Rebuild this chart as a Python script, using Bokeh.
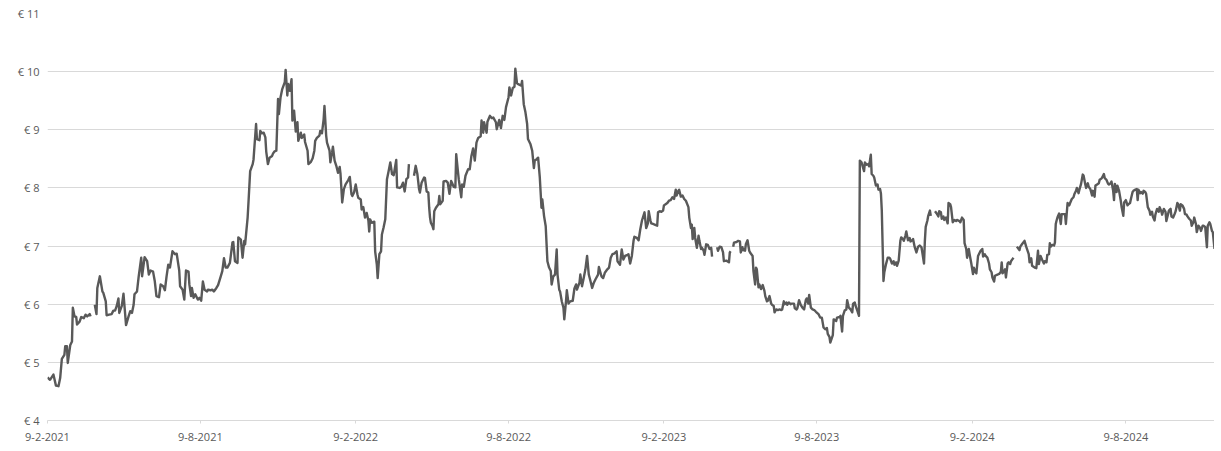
import pandas as pd
from bokeh.plotting import figure
from bokeh.models import Range1d, FixedTicker
from bokeh.embed import file_html
from bokeh.resources import INLINE

start_date = "2021-02-09"
end_day = 1382

# day offsets from start_date and closing prices (EUR), per unbroken stretch
days_1 = [0,3,7,10,13,15,17,20,21,23,
          24,27,29,30,32,34,35,38,40,43,
          45,47,50,51]
price_1 = [4.74,4.70,4.79,4.60,4.59,4.73,5.06,5.13,5.28,5.28,
           4.99,5.30,5.36,5.94,5.79,5.78,5.65,5.70,5.78,5.76,
           5.82,5.79,5.83,5.79]

days_2 = [56,58,59,62,65,66,69,70,73,76,
          78,80,82,84,85,88,90,93,96,98,
          100,102,103,106,108,111,112,115,118,120,
          122,125,127,129,132,134,137,139,141,143,
          145,148,151,153,156,157,160,162,164,167,
          168,170,171,173,175,178,180,182,184,186,
          189,190,193,195,197,200,202,205,207,209,
          211,213,216,219,220,222,225,226,229,231,
          233,234,237,238,240,243,244,247,248,251,
          252,254,256,258,259,261,263,266,267,269,
          271,273,274,276,278,281,282,284,285,287,
          289,290,292,294,296,297,300,301,304,305,
          308,309,312,314,316,317,319,322,323,325,
          327,328,330,331,334,335,337,338,340,342,
          344,346,347,349,351,353,356,358,360,361,
          363,365,367,368,371,372,374,376,378,380,
          381,382,384,387,388,390,391,393,395,396,
          398,400,402,404,406,408,410,413,414,417,
          419,421,423,425,427,428]
price_2 = [5.99,5.83,6.28,6.48,6.22,6.20,6.05,5.81,5.82,5.83,
           5.89,5.89,5.97,6.10,5.85,5.97,6.18,5.64,5.79,5.88,
           5.85,5.99,6.17,6.22,6.48,6.80,6.48,6.81,6.74,6.51,
           6.58,6.56,6.40,6.14,6.12,6.34,6.31,6.24,6.48,6.68,
           6.63,6.91,6.86,6.87,6.58,6.31,6.25,6.08,6.58,6.56,
           6.34,6.14,6.28,6.11,6.17,6.08,6.11,6.06,6.39,6.25,
           6.22,6.25,6.24,6.25,6.22,6.28,6.33,6.47,6.57,6.79,
           6.63,6.63,6.71,7.06,7.07,6.74,6.71,7.15,7.11,6.80,
           7.09,7.03,7.49,7.75,8.29,8.41,8.49,9.10,8.84,8.82,
           8.98,8.94,8.95,8.87,8.63,8.41,8.52,8.55,8.59,8.63,
           8.64,9.53,9.27,9.56,9.70,9.82,10.03,9.59,9.79,9.67,
           9.87,9.16,9.33,8.97,9.13,8.81,8.95,8.86,8.92,8.79,
           8.64,8.41,8.45,8.51,8.64,8.81,8.86,8.90,8.98,8.94,
           9.18,9.41,8.90,8.78,8.64,8.44,8.61,8.71,8.47,8.38,
           8.26,8.36,8.24,7.75,7.98,8.06,8.13,8.19,7.89,7.86,
           7.92,8.06,7.89,7.83,7.80,7.63,7.67,7.49,7.57,7.44,
           7.25,7.46,7.40,7.42,6.91,6.68,6.45,6.86,6.91,7.20,
           7.32,7.46,8.15,8.29,8.44,8.24,8.22,8.48,8.01,8.00,
           8.02,8.09,7.94,8.15,8.18,8.41]

days_3 = [434,436,438,440,441,443,446,447,449,451,
          452,453,454,456,457,458,460,463,464,465,
          468,469,472,474,476,478,479,481,483,484,
          486,487,490,491,493,495,498,500,502,504,
          506,508,510,513,514,516,517,520,521,524,
          526,528,531,532,535,537,539,541,543,546,
          547,549,551,553,554,556,558,561,562,564,
          566,568,569,572,574,576,577,579,581,583,
          585,586,588,590,592,594,596,597,599,601,
          603,604,606,607,609,611,612,614,615,617,
          619,622,624,626,627,630,631,633,635,637,
          639,641,643,645,647,649,652,653,656,658,
          660,663,665,667,669,671,674,675,678,680,
          682,684,687,688,690,692,694,695,698,700,
          702,704,707,709,711,712,714,715,717,719,
          722,723,725,727,729,730,732,734,736,738,
          740,742,744,745,747,748,750,752,754,756,
          759,760,762,763,764,766,767,769,771,772,
          774,775,777,778,780,782,784,786,787]
price_3 = [8.21,8.38,8.24,7.98,7.92,8.09,8.18,8.17,7.94,7.92,
           7.66,7.49,7.40,7.34,7.29,7.60,7.66,7.72,7.86,7.72,
           7.78,8.11,8.12,8.09,7.90,8.12,8.09,8.02,8.01,8.58,
           8.29,8.15,7.84,8.06,8.02,8.21,8.32,8.32,8.55,8.68,
           8.47,8.78,8.86,8.89,9.16,8.95,9.13,8.95,9.14,9.24,
           9.20,9.21,9.13,9.01,9.17,9.03,9.24,9.17,9.39,9.56,
           9.73,9.59,9.72,9.74,10.05,9.80,9.78,9.76,9.84,9.44,
           9.30,9.10,8.84,8.75,8.64,8.34,8.47,8.49,8.52,8.18,
           7.66,7.80,7.52,7.34,6.74,6.63,6.57,6.34,6.48,6.51,
           6.94,6.51,6.25,6.22,6.05,5.94,5.74,6.05,6.24,6.01,
           6.05,6.06,6.27,6.34,6.25,6.37,6.51,6.31,6.45,6.60,
           6.83,6.51,6.40,6.28,6.37,6.43,6.51,6.64,6.48,6.45,
           6.54,6.60,6.63,6.80,6.86,6.87,6.91,6.74,6.68,6.94,
           6.77,6.83,6.85,6.86,6.70,6.83,7.09,7.16,7.14,7.10,
           7.29,7.44,7.58,7.31,7.39,7.60,7.44,7.39,7.38,7.37,
           7.35,7.58,7.60,7.59,7.61,7.70,7.72,7.74,7.78,7.79,
           7.84,7.81,7.97,7.87,7.95,7.97,7.85,7.87,7.81,7.78,
           7.67,7.49,7.31,7.37,7.12,7.31,7.14,6.97,7.18,7.09,
           6.95,6.97,6.92,6.85,7.03,7.02,6.95,6.97,6.82]

days_4 = [793,794,796,798,800,801,804,805,807,808,809]
price_4 = [6.98,6.92,6.99,6.98,6.89,6.74,6.75,6.74,6.72,6.89,6.91]

days_5 = [812,813,816,818,820,821,823,824,826,827,
          829,831,832,835,836,838,839,840,842,843,
          845,847,849,850,852,853,855,857,858,860,
          861,863,865,867,869,870,872,873,875,876,
          878,880,881,884,885,887,888,890,892,894,
          896,898,899,901,902,904,906,908,910,913,
          915,917,919,921,923,924,926,927,930,931,
          934,935,938,939,941,942,944,946,947,949,
          951,953,954,956,957,959,961,962,964,967,
          968,970,972,973,975,976,978,979,981,983,
          984,986,987,988,990,991,993,995,997,998,
          1000,1002,1003,1005,1006,1008,1010,1011,1013,1014,
          1016,1017,1019,1021,1022,1024,1025,1027,1029,1031,
          1033,1035,1036,1038,1039,1040,1042,1043,1045,1046]
price_5 = [6.99,7.06,7.07,7.09,7.08,6.89,6.98,6.93,6.92,7.03,
           7.10,6.92,6.89,6.83,6.57,6.34,6.63,6.60,6.29,6.34,
           6.26,6.33,6.23,6.14,6.05,6.06,6.14,6.01,5.99,5.97,
           5.86,5.91,5.90,5.91,5.90,5.91,6.05,6.00,6.03,5.99,
           6.03,6.00,6.01,6.01,5.93,5.91,5.93,6.07,5.99,5.94,
           5.91,6.07,6.10,6.01,6.16,5.94,5.91,5.90,5.87,5.83,
           5.77,5.77,5.60,5.57,5.59,5.49,5.44,5.34,5.47,5.74,
           5.71,5.77,5.78,5.80,5.53,5.80,5.89,5.91,6.07,5.94,
           5.91,5.86,6.01,6.03,5.97,5.89,5.80,8.47,8.44,8.29,
           8.44,8.40,8.41,8.37,8.57,8.24,8.21,8.18,8.04,8.06,
           7.97,7.98,7.90,7.61,6.40,6.55,6.69,6.80,6.80,6.78,
           6.70,6.74,6.68,6.72,6.66,6.75,7.09,7.15,7.12,7.09,
           7.18,7.25,7.10,7.14,7.08,7.10,7.12,6.98,6.89,6.99,
           7.01,6.98,6.89,6.70,7.09,7.33,7.44,7.52,7.61,7.52]

days_6 = [1051,1053,1055,1056,1058,1059,1061,1062,1064,1066,
          1067,1069,1070,1072,1074,1076,1077,1080,1081,1083,
          1085,1086,1088,1089,1091,1092,1094,1096,1097,1099,
          1100,1102,1104,1105,1107,1108,1110,1111,1113,1115,
          1116,1118,1119,1121,1122,1125,1127,1129,1130,1131,
          1133,1134,1135,1137,1138,1140,1141,1143,1144]
price_6 = [7.60,7.56,7.51,7.60,7.58,7.47,7.51,7.45,7.49,7.39,
           7.74,7.72,7.67,7.41,7.45,7.43,7.45,7.43,7.41,7.49,
           7.45,7.05,6.95,6.80,6.95,6.86,6.70,6.52,6.63,6.55,
           6.53,6.83,6.89,6.92,6.95,6.82,6.86,6.83,6.80,6.70,
           6.60,6.55,6.46,6.39,6.49,6.51,6.52,6.56,6.72,6.53,
           6.57,6.60,6.46,6.70,6.72,6.69,6.74,6.78,6.80]

days_7 = [1148,1151,1152,1154,1157,1159,1162,1163,1165,1166,
          1169,1171,1173,1174,1176,1178,1180,1181,1183,1184,
          1186,1187,1188,1190,1192,1193,1194,1195,1196,1198,
          1200,1201,1203,1205,1206,1207,1208,1210,1211,1213,
          1215,1216,1218,1219,1221,1222,1224,1226,1227,1229,
          1230,1232,1233,1235,1237,1238,1240,1241,1243,1245,
          1246,1248,1249,1251,1252,1254,1256,1257,1259,1260,
          1262,1263,1264,1266,1267,1269,1271,1272,1274,1275,
          1277,1279,1280,1282,1283,1285,1286,1288,1290,1291,
          1292,1294,1295,1297,1298,1300,1301,1303,1305,1306,
          1308,1309,1311,1312,1314,1316,1317,1319,1320,1322,
          1324,1325,1327,1328,1330,1331,1333,1335,1336,1338,
          1339,1341,1342,1344,1346,1347,1349,1350,1352,1354,
          1355,1357,1358,1360,1361,1363,1365,1366,1368,1369,
          1371,1373,1374,1376,1377,1379,1380,1382]
price_7 = [6.99,6.93,6.99,7.03,7.09,6.99,6.86,6.72,6.79,6.66,
           6.63,6.62,6.92,6.69,6.83,6.76,6.70,6.74,6.72,6.85,
           6.86,7.05,6.99,7.02,7.01,7.06,7.38,7.44,7.49,7.56,
           7.38,7.55,7.55,7.55,7.38,7.56,7.74,7.70,7.74,7.81,
           7.84,7.89,7.95,8.00,7.91,7.97,8.07,8.23,8.21,8.06,
           8.00,8.08,8.02,7.98,7.87,7.95,7.85,8.04,8.06,8.08,
           8.14,8.16,8.18,8.24,8.17,8.14,8.07,8.06,8.08,8.11,
           7.95,7.79,8.07,7.93,8.04,7.95,7.78,7.67,7.52,7.75,
           7.79,7.70,7.72,7.74,7.81,7.93,7.95,7.97,7.98,7.79,
           7.97,7.91,7.93,7.90,7.95,7.93,7.90,7.67,7.61,7.54,
           7.59,7.51,7.44,7.54,7.64,7.59,7.67,7.60,7.54,7.64,
           7.59,7.43,7.55,7.61,7.64,7.51,7.49,7.56,7.60,7.74,
           7.72,7.61,7.72,7.70,7.64,7.55,7.54,7.51,7.47,7.44,
           7.35,7.41,7.49,7.38,7.24,7.35,7.31,7.26,7.35,7.35,
           7.33,6.98,7.35,7.41,7.38,7.26,7.24,6.95]

tick_dates = ["2021-02-09", "2021-08-09", "2022-02-09", "2022-08-09",
              "2023-02-09", "2023-08-09", "2024-02-09", "2024-08-09"]
tick_labels = ["9-2-2021", "9-8-2021", "9-2-2022", "9-8-2022",
               "9-2-2023", "9-8-2023", "9-2-2024", "9-8-2024"]
y_ticks = [4, 5, 6, 7, 8, 9, 10, 11]
y_labels = ["€ 4", "€ 5", "€ 6", "€ 7", "€ 8", "€ 9", "€ 10", "€ 11"]

segments = [(days_1, price_1), (days_2, price_2), (days_3, price_3),
            (days_4, price_4), (days_5, price_5), (days_6, price_6),
            (days_7, price_7)]

t0 = pd.Timestamp(start_date)
tick_days = [int((pd.Timestamp(d) - t0).days) for d in tick_dates]

FONT = "Open Sans"
TXT = "#595959"
GRID = "#d9d9d9"

p = figure(width=1214, height=448, output_backend="svg", toolbar_location=None,
           x_range=Range1d(0, end_day), y_range=Range1d(4, 11),
           min_border_left=47, min_border_right=0, min_border_top=13,
           min_border_bottom=28)
p.outline_line_color = None
p.background_fill_color = "white"
p.border_fill_color = "white"

for d, v in segments:
    p.line(d, v, line_color="#595959", line_width=2.4, line_join="round")

p.xgrid.visible = False
p.ygrid.grid_line_color = GRID
p.ygrid.grid_line_width = 1
p.ygrid.ticker = FixedTicker(ticks=y_ticks)

p.yaxis.ticker = FixedTicker(ticks=y_ticks)
p.yaxis.major_label_overrides = {t: l for t, l in zip(y_ticks, y_labels)}
p.yaxis.axis_line_color = None
p.yaxis.major_tick_line_color = None
p.yaxis.minor_tick_line_color = None
p.yaxis.major_tick_in = 0
p.yaxis.major_tick_out = 0
p.yaxis.major_label_standoff = 8
p.yaxis.major_label_text_font = FONT
p.yaxis.major_label_text_font_size = "11px"
p.yaxis.major_label_text_color = TXT

p.xaxis.ticker = FixedTicker(ticks=tick_days)
p.xaxis.major_label_overrides = {t: l for t, l in zip(tick_days, tick_labels)}
p.xaxis.axis_line_color = GRID
p.xaxis.axis_line_width = 1
p.xaxis.major_tick_line_color = GRID
p.xaxis.major_tick_in = 0
p.xaxis.major_tick_out = 3
p.xaxis.minor_tick_line_color = None
p.xaxis.major_label_standoff = 9
p.xaxis.major_label_text_font = FONT
p.xaxis.major_label_text_font_size = "11px"
p.xaxis.major_label_text_color = TXT

open("out.html", "w").write(file_html(p, INLINE))
